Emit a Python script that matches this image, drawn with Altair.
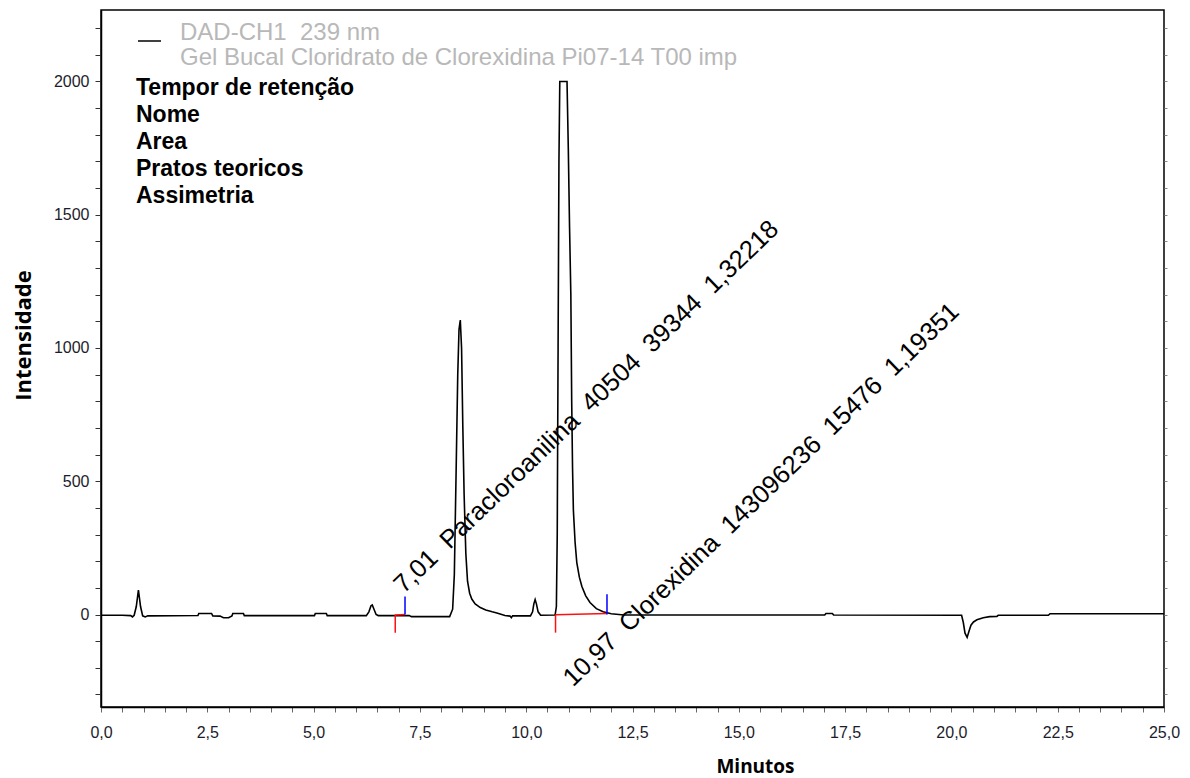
import altair as alt
import pandas as pd

# ---- chromatogram ----
times = [0.0, 0.5, 0.70, 0.74, 0.78, 0.83, 0.88, 0.93, 0.98, 1.04, 1.10, 2.28, 2.30, 2.60, 2.63,
         2.80, 2.88, 3.00, 3.08, 3.10, 3.35, 3.37, 5.02, 5.04, 5.30, 5.32, 6.24, 6.30, 6.35, 6.38,
         6.42, 6.47, 6.52, 7.25, 7.30, 8.20, 8.27, 8.31, 8.35, 8.39, 8.42, 8.45, 8.48, 8.51, 8.54,
         8.58, 8.62, 8.67, 8.72, 8.80, 8.92, 9.05, 9.20, 9.31, 9.50, 9.62, 9.65, 9.68, 10.10, 10.15,
         10.18, 10.21, 10.24, 10.28, 10.34, 10.68, 10.71, 10.73, 10.75, 10.77, 10.79, 10.96, 10.99,
         11.02, 11.05, 11.07, 11.09, 11.11, 11.15, 11.19, 11.25, 11.31, 11.40, 11.50, 11.65, 11.81,
         12.0, 12.3, 17.02, 17.05, 17.20, 17.23, 20.24, 20.28, 20.32, 20.37, 20.41, 20.46, 20.52,
         20.60, 20.75, 20.90, 21.07, 21.10, 22.28, 22.32, 25.0]
intensity = [-3, -3, -4, -9, -3, 30, 92, 30, -5, -9, -5, -4, 4, 4, -5,
             -6, -12, -12, -5, 4, 4, -4, -4, 4, 4, -4, -4, 10, 33, 36,
             20, 0, -4, -4, -8, -8, 20, 150, 520, 900, 1070, 1105, 1000, 700, 450,
             230, 125, 80, 58, 40, 26, 17, 10, 6, -4, -6, -12, -5, -5, 10,
             40, 56, 40, 10, -3, -2, 30, 300, 1000, 1700, 2000, 2000, 1750,
             1450, 1200, 800, 550, 390, 270, 195, 140, 105, 70, 45, 22, 10,
             3, -2, -2, 4, 4, -2, -3, -30, -70, -86, -65, -40, -28,
             -20, -12, -8, -7, -3, -3, 3, 3]

# ---- peak annotations ----
peak_labels = ["7,01 \u00a0Paracloroanilina \u00a040504 \u00a039344 \u00a01,32218",
               "10,97 \u00a0Clorexidina \u00a0143096236 \u00a015476 \u00a01,19351"]
label_t = [7.12, 11.10]
label_i = [76, -274]

int_start = [6.92, 10.69]
int_end = [7.15, 11.90]
start_tick = [-68, -68]
end_tick = [68, 76]
base_start = [-2, -1]
base_end = [0, 4]

legend_lines = ["DAD-CH1 \u00a0239 nm", "Gel Bucal Cloridrato de Clorexidina Pi07-14 T00 imp"]
table_rows = ["Tempor de retenção", "Nome", "Area", "Pratos teoricos", "Assimetria"]

x_ticks = [i * 0.5 for i in range(51)]
y_ticks = list(range(-300, 2201, 100))

xs = alt.Scale(domain=[0, 25], nice=False, zero=False)
ys = alt.Scale(domain=[-347, 2268], nice=False, zero=False)

x_axis = alt.Axis(
    values=x_ticks,
    labelExpr="datum.value % 2.5 === 0 ? replace(format(datum.value, '.1f'), '.', ',') : ''",
    tickSize=5, tickColor="#666", domainColor="black", domainWidth=1.5,
    labelFont="Liberation Sans", labelFontSize=16, labelColor="#1c1c2c", labelPadding=12,
    labelOverlap=False, labelFlush=False, grid=False,
    title="Minutos", titleFont="Open Sans", titleFontSize=19, titleFontWeight="bold",
    titleColor="black", titleX=654, titleY=65, titleBaseline="alphabetic", titleAlign="center",
)
y_axis = alt.Axis(
    values=y_ticks,
    labelExpr="datum.value % 500 === 0 ? format(datum.value, 'd') : ''",
    tickSize=6, tickColor="#333", domainColor="black", domainWidth=1.5,
    labelFont="Liberation Sans", labelFontSize=16, labelColor="#1c1c2c", labelPadding=6,
    labelOverlap=False, labelFlush=False, grid=False,
    title="Intensidade", titleFont="Open Sans", titleFontSize=22, titleFontWeight="bold",
    titleColor="black", titleX=-71, titleY=325, titleAngle=270, titleBaseline="alphabetic",
    titleAlign="center",
)
y_axis_right = alt.Axis(
    orient="right", values=y_ticks, labels=False, tickSize=3, tickColor="#888",
    domain=False, grid=False, title="",
)


def X(field, axis=None):
    return alt.X(field, scale=xs, axis=axis)


def Y(field, axis=None):
    return alt.Y(field, scale=ys, axis=axis)


df = pd.DataFrame({"t": times, "I": intensity})
line = alt.Chart(df).mark_line(color="black", strokeWidth=1.6).encode(
    x=X("t:Q", x_axis), y=Y("I:Q", y_axis))

marks = pd.DataFrame({"t": int_start, "e": int_end, "sd": start_tick, "eh": end_tick,
                      "I": base_start, "be": base_end, "z": [0, 0]})
red_base = alt.Chart(marks).mark_rule(color="#ff1010", strokeWidth=1.5).encode(
    x=X("t:Q"), x2="e:Q", y=Y("I:Q"), y2="be:Q")
red_tick = alt.Chart(marks).mark_rule(color="#ff1010", strokeWidth=1.5).encode(
    x=X("t:Q"), y=Y("z:Q"), y2="sd:Q")
blue_tick = alt.Chart(marks).mark_rule(color="#0000ff", strokeWidth=1.5).encode(
    x=X("e:Q"), y=Y("z:Q", y_axis_right), y2="eh:Q")

lab = pd.DataFrame({"t": label_t, "I": label_i, "txt": peak_labels})
labels = alt.Chart(lab).mark_text(angle=316, align="left", baseline="alphabetic",
                                  font="Liberation Sans", fontSize=25.5, color="black").encode(
    x=X("t:Q"), y=Y("I:Q"), text="txt:N")

layers = [line, red_base, red_tick, blue_tick, labels]

# legend sample line
layers.append(alt.Chart(pd.DataFrame({"k": [0]})).mark_rule(color="black", strokeWidth=1.5).encode(
    x=alt.value(37), x2=alt.value(60), y=alt.value(31)))
for i, txt in enumerate(legend_lines):
    layers.append(alt.Chart(pd.DataFrame({"txt": [txt]})).mark_text(
        align="left", baseline="alphabetic", font="Liberation Sans", fontSize=24,
        color="#b8b8b8").encode(x=alt.value(79), y=alt.value(30 + 25 * i), text="txt:N"))
for i, txt in enumerate(table_rows):
    layers.append(alt.Chart(pd.DataFrame({"txt": [txt]})).mark_text(
        align="left", baseline="alphabetic", font="Liberation Sans", fontSize=23,
        fontWeight="bold", color="black").encode(x=alt.value(35), y=alt.value(85 + 27 * i), text="txt:N"))

chart = alt.layer(*layers).resolve_axis(x="independent", y="independent").properties(
    width=1063, height=697,
    autosize=alt.AutoSizeParams(type="none"),
    padding={"left": 101, "top": 10, "right": 26, "bottom": 71},
    background="white",
).configure_view(stroke="black", strokeWidth=1.5)

chart.save("out.html", embed_options={"renderer": "svg", "actions": False})
